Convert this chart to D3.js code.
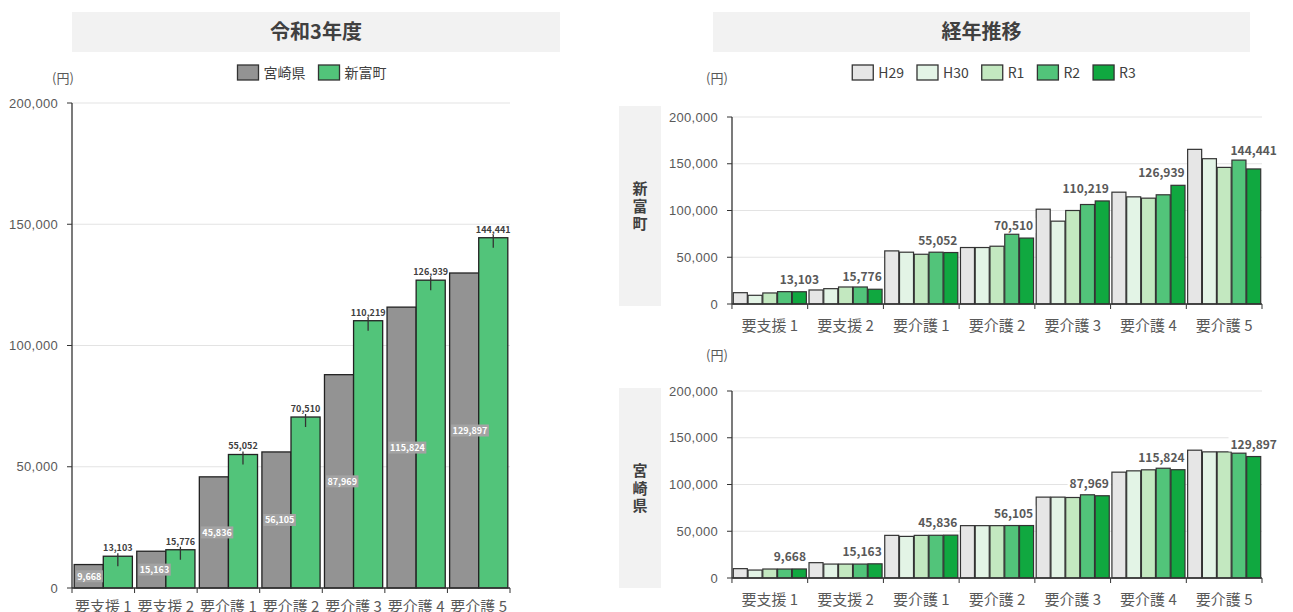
<!DOCTYPE html>
<html>
<head>
<meta charset="utf-8">
<script src="https://cdn.jsdelivr.net/npm/d3@7"></script>
<style>
  body { margin: 0; background: #fff; }
  svg { display: block; font-family: "Noto Sans CJK JP", "Noto Sans", sans-serif; }
  .tick text { fill: #595959; }
</style>
</head>
<body>
<div id="chart"></div>
<script>
// Data
const categories = ['要支援 1', '要支援 2', '要介護 1', '要介護 2', '要介護 3', '要介護 4', '要介護 5'];
const years = ['H29', 'H30', 'R1', 'R2', 'R3'];
const yearColors = ['#e6e6e6', '#e3f4e6', '#c3e8c0', '#52c47a', '#10a840'];

// 新富町 (H29..R3 per category)
const shintomi = [
  [12100, 9300, 11800, 13200, 13103],
  [15000, 16400, 18200, 18200, 15776],
  [56800, 55400, 53200, 55400, 55052],
  [60400, 60400, 61800, 74600, 70510],
  [101400, 88600, 100000, 106400, 110219],
  [119600, 114600, 113200, 116800, 126939],
  [165400, 155400, 146100, 153900, 144441],
];
// 宮崎県
const miyazaki = [
  [10000, 8500, 9600, 9600, 9668],
  [16400, 14900, 14900, 14900, 15163],
  [45600, 44500, 45600, 45700, 45836],
  [56000, 56000, 56000, 56100, 56105],
  [86500, 86500, 86100, 89000, 87969],
  [113200, 114600, 115700, 117400, 115824],
  [136700, 134900, 134900, 133500, 129897],
];
const yTicks = [0, 50000, 100000, 150000, 200000];

const fmt = d3.format(',');
const W = 1293, H = 612;

const svg = d3.select('#chart').append('svg')
  .attr('width', W).attr('height', H);

// title boxes
function titleBox(x, w, label) {
  svg.append('rect').attr('x', x).attr('y', 12).attr('width', w).attr('height', 40).attr('fill', '#f2f2f2');
  svg.append('text').attr('x', x + w / 2).attr('y', 39).attr('text-anchor', 'middle')
    .attr('font-size', 20).attr('font-weight', 'bold').attr('fill', '#404040').text(label);
}
titleBox(72, 488, '令和3年度');
titleBox(713, 537, '経年推移');

// legend helper
function legend(items, colors, cx, y) {
  const g = svg.append('g');
  let x = 0;
  items.forEach((it, i) => {
    g.append('rect').attr('x', x).attr('y', y - 8).attr('width', 21).attr('height', 15)
      .attr('fill', colors[i]).attr('stroke', '#333').attr('stroke-width', 1.3);
    const t = g.append('text').attr('x', x + 26).attr('y', y + 5).attr('font-size', 14)
      .attr('fill', '#404040').text(it);
    x += 26 + t.node().getComputedTextLength() + 13;
  });
  x -= 13;
  g.attr('transform', `translate(${cx - x / 2},0)`);
}

// y axis helper
function yAxisAt(y, x0, x1) {
  svg.append('g').attr('transform', `translate(${x0},0)`)
    .call(d3.axisLeft(y).tickValues(yTicks).tickFormat(fmt).tickSize(0).tickPadding(14))
    .call((g) => g.select('.domain').remove())
    .call((g) => g.selectAll('text').attr('font-size', 13).attr('letter-spacing', 0.3));
  svg.append('g').selectAll('line').data(yTicks.filter((d) => d > 0)).join('line')
    .attr('x1', x0).attr('x2', x1).attr('y1', (d) => y(d)).attr('y2', (d) => y(d))
    .attr('stroke', '#e3e3e3').attr('stroke-width', 1);
  svg.append('g').selectAll('line').data(yTicks).join('line')
    .attr('x1', x0 - 5).attr('x2', x0).attr('y1', (d) => y(d)).attr('y2', (d) => y(d))
    .attr('stroke', '#333');
  svg.append('line').attr('x1', x0).attr('x2', x0).attr('y1', y(200000)).attr('y2', y(0))
    .attr('stroke', '#333').attr('stroke-width', 1.3);
}

function xAxisAt(x, yBase, x0, x1, labelY) {
  const bounds = categories.map((c) => x(c) - x.step() * x.paddingInner() / 2).concat([x1]);
  svg.append('line').attr('x1', x0).attr('x2', x1).attr('y1', yBase).attr('y2', yBase)
    .attr('stroke', '#333').attr('stroke-width', 1.3);
  svg.append('g').selectAll('line').data(bounds).join('line')
    .attr('x1', (d) => d).attr('x2', (d) => d).attr('y1', yBase).attr('y2', yBase + 5)
    .attr('stroke', '#333');
  svg.append('g').selectAll('text').data(categories).join('text')
    .attr('x', (d) => x(d) + x.bandwidth() / 2).attr('y', labelY)
    .attr('text-anchor', 'middle').attr('font-size', 15).attr('fill', '#595959')
    .text((d) => d);
}

// ---------- Left chart ----------
{
  const x0 = 72, x1 = 510;
  const y = d3.scaleLinear().domain([0, 200000]).range([588, 103]);
  const x = d3.scaleBand().domain(categories).range([x0, x1]).paddingInner(0.07).paddingOuter(0.035);
  const sub = d3.scaleBand().domain(['宮崎県', '新富町']).range([0, x.bandwidth()]);
  const colors = ['#939393', '#52c47a'];

  legend(['宮崎県', '新富町'], colors, 312, 73);
  svg.append('text').attr('x', 63).attr('y', 83).attr('text-anchor', 'middle')
    .attr('font-size', 13).attr('fill', '#595959').text('(円)');

  yAxisAt(y, x0, x1);

  const rows = categories.map((c, i) => ({ c, pref: miyazaki[i][4], town: shintomi[i][4] }));
  const g = svg.append('g');
  g.selectAll('rect.pref').data(rows).join('rect')
    .attr('x', (d) => x(d.c)).attr('y', (d) => y(d.pref))
    .attr('width', sub.bandwidth()).attr('height', (d) => y(0) - y(d.pref))
    .attr('fill', colors[0]).attr('stroke', '#222').attr('stroke-width', 1.3);
  g.selectAll('rect.town').data(rows).join('rect')
    .attr('x', (d) => x(d.c) + sub('新富町')).attr('y', (d) => y(d.town))
    .attr('width', sub.bandwidth()).attr('height', (d) => y(0) - y(d.town))
    .attr('fill', colors[1]).attr('stroke', '#222').attr('stroke-width', 1.3);

  // error-bar like marks on green bars
  g.selectAll('line.err').data(rows).join('line')
    .attr('x1', (d) => x(d.c) + sub('新富町') + sub.bandwidth() / 2)
    .attr('x2', (d) => x(d.c) + sub('新富町') + sub.bandwidth() / 2)
    .attr('y1', (d) => y(d.town) - 3).attr('y2', (d) => y(d.town) + 10)
    .attr('stroke', '#333').attr('stroke-width', 1.3);

  g.selectAll('text.town').data(rows).join('text')
    .attr('x', (d) => x(d.c) + sub('新富町') + sub.bandwidth() / 2)
    .attr('y', (d) => y(d.town) - 5).attr('text-anchor', 'middle')
    .attr('font-size', 9).attr('font-weight', 'bold').attr('fill', '#404040')
    .text((d) => fmt(d.town));

  // inside labels on gray bars
  rows.forEach((d) => {
    const cy = (y(d.pref) + y(0)) / 2;
    const t = g.append('text').attr('x', x(d.c) + 3).attr('y', cy + 3.5)
      .attr('font-size', 9).attr('font-weight', 'bold').attr('fill', '#fff').text(fmt(d.pref));
    const w = t.node().getComputedTextLength();
    g.insert('rect', () => t.node()).attr('x', x(d.c) + 1.5).attr('y', cy - 6)
      .attr('width', w + 3).attr('height', 12).attr('fill', '#a3a3a3');
  });

  xAxisAt(x, 588, x0, x1, 612);
}

// ---------- Right charts ----------
legend(years, yearColors, 994, 73);

function trendPanel(data, name, top, base, boxTop, unitY) {
  const x0 = 732, x1 = 1262;
  const y = d3.scaleLinear().domain([0, 200000]).range([base, top]);
  const x = d3.scaleBand().domain(categories).range([x0, x1]).paddingInner(0.035).paddingOuter(0.017);
  const sub = d3.scaleBand().domain(years).range([0, x.bandwidth()]).paddingInner(0.05);

  svg.append('rect').attr('x', 619).attr('y', boxTop).attr('width', 42).attr('height', 200).attr('fill', '#f2f2f2');
  svg.append('text').attr('x', 640).attr('y', boxTop + 100 - 12).attr('text-anchor', 'middle')
    .attr('font-size', 15).attr('font-weight', 'bold').attr('fill', '#404040')
    .selectAll('tspan').data(name.split('')).join('tspan')
    .attr('x', 640).attr('dy', (d, i) => (i === 0 ? 0 : 17.5)).text((d) => d);
  svg.append('text').attr('x', 717).attr('y', unitY).attr('text-anchor', 'middle')
    .attr('font-size', 13).attr('fill', '#595959').text('(円)');

  yAxisAt(y, x0, x1);

  const cells = [];
  data.forEach((vals, i) => vals.forEach((v, j) => cells.push({ i, c: categories[i], yr: years[j], j, v })));
  svg.append('g').selectAll('rect').data(cells).join('rect')
    .attr('x', (d) => x(d.c) + sub(d.yr)).attr('y', (d) => y(d.v))
    .attr('width', sub.bandwidth()).attr('height', (d) => y(0) - y(d.v))
    .attr('fill', (d) => yearColors[d.j]).attr('stroke', '#333').attr('stroke-width', 1.2);

  // R3 value labels; nudge when they would sit on a neighbouring bar
  const blocker = (bx0, bx1, by1, d) => cells.find((o) => {
    if (o === d) return false;
    const ox0 = x(o.c) + sub(o.yr), ox1 = ox0 + sub.bandwidth();
    return ox1 > bx0 && ox0 < bx1 && y(o.v) < by1;
  });
  const lab = cells.filter((d) => d.yr === 'R3');
  const lg = svg.append('g');
  lab.forEach((d) => {
    const bx = x(d.c) + sub('R3');
    let cx = bx + sub.bandwidth() / 2;
    let ty = y(d.v) - 8;
    const t = lg.append('text').attr('text-anchor', 'middle')
      .attr('font-size', 12).attr('font-weight', 'bold').attr('fill', '#595959').text(fmt(d.v));
    const w = t.node().getComputedTextLength();
    const b = blocker(cx - w / 2, cx + w / 2, ty + 3, d);
    if (b) {
      if (d.i < categories.length - 1) {
        cx = x(categories[d.i + 1]) - 3 - w / 2;
      } else if (y(d.v) - y(b.v) > 5) {
        ty = y(b.v) - 5;
      } else {
        cx = bx + 4 + w / 2;
      }
    }
    t.attr('x', cx).attr('y', ty);
    lg.insert('rect', () => t.node()).attr('x', cx - w / 2 - 2).attr('y', ty - 12)
      .attr('width', w + 4).attr('height', 15).attr('fill', '#fff');
  });

  xAxisAt(x, base, x0, x1, base + 27);
}

trendPanel(shintomi, '新富町', 117, 304, 106, 83);
trendPanel(miyazaki, '宮崎県', 391, 578, 388, 360);
</script>
</body>
</html>
